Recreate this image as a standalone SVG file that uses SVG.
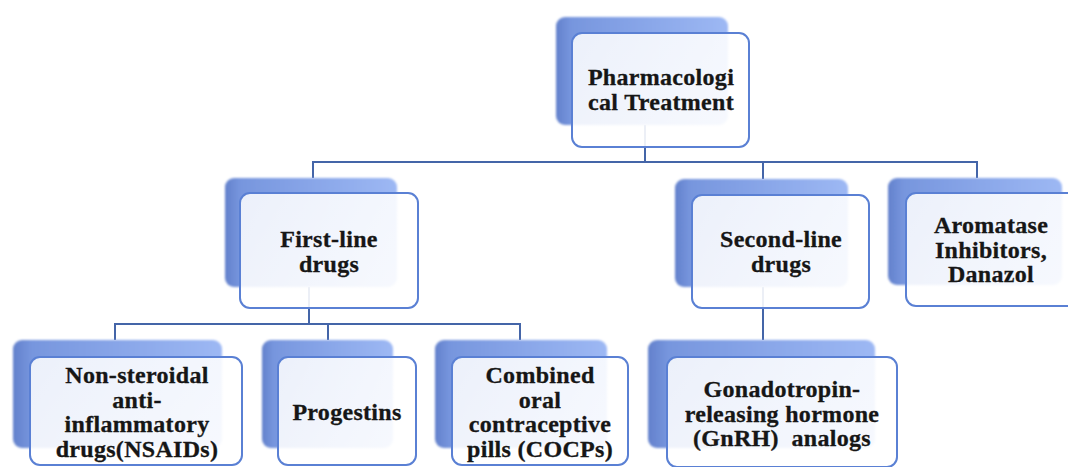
<svg xmlns="http://www.w3.org/2000/svg" width="1068" height="467" viewBox="0 0 1068 467">
  <defs>
    <linearGradient id="backGrad" x1="0" y1="0" x2="1" y2="0">
      <stop offset="0" stop-color="#6381cc"/>
      <stop offset="0.09" stop-color="#7796de"/>
      <stop offset="1" stop-color="#9db8f4"/>
    </linearGradient>
    <linearGradient id="frontGrad" x1="0" y1="0" x2="1" y2="1">
      <stop offset="0" stop-color="#ffffff" stop-opacity="0.86"/>
      <stop offset="1" stop-color="#ffffff" stop-opacity="0.92"/>
    </linearGradient>
    <filter id="soft" x="-5%" y="-5%" width="110%" height="110%">
      <feGaussianBlur stdDeviation="0.8"/>
    </filter>
  </defs>
  <style>
    .back { fill: url(#backGrad); filter: url(#soft); }
    .front { fill: url(#frontGrad); stroke: #5a80d4; stroke-width: 2; }
    .conn { fill: none; stroke: #4465a8; stroke-width: 2; }
    .lbl { font-weight: bold; font-size: 24px; fill: #161616; stroke: #161616; stroke-width: 0.3; letter-spacing: 0.3px; text-anchor: middle; white-space: pre; }
  </style>
  <rect width="1068" height="467" fill="#ffffff"/>

  <g id="connectors">
    <path class="conn" d="M645,125 V162 H313 V178"/>
    <path class="conn" d="M645,162 H763 V179"/>
    <path class="conn" d="M645,162 H977 V178"/>
    <path class="conn" d="M309,287 V324 H115 V340"/>
    <path class="conn" d="M309,324 H328 V340"/>
    <path class="conn" d="M309,324 H520 V340"/>
    <path class="conn" d="M763,287 V340"/>
  </g>

  <g font-family="Liberation Serif, Times New Roman, DejaVu Serif, serif">
  <g id="node-pharmacological-treatment">
    <rect class="back" x="556" y="17" width="172" height="108" rx="9"/>
    <rect class="front" x="572" y="33" width="177" height="114" rx="10"/>
    <text class="lbl" x="661" y="85">Pharmacologi</text>
    <text class="lbl" x="661" y="110">cal Treatment</text>
  </g>

  <g id="node-first-line">
    <rect class="back" x="225" y="178" width="172" height="109" rx="9"/>
    <rect class="front" x="240" y="193" width="178" height="115" rx="10"/>
    <text class="lbl" x="329" y="247">First-line</text>
    <text class="lbl" x="329" y="272">drugs</text>
  </g>

  <g id="node-second-line">
    <rect class="back" x="675" y="179" width="173" height="108" rx="9"/>
    <rect class="front" x="692" y="195" width="177" height="113" rx="10"/>
    <text class="lbl" x="781" y="247">Second-line</text>
    <text class="lbl" x="781" y="272">drugs</text>
  </g>

  <g id="node-aromatase">
    <rect class="back" x="888" y="178" width="174" height="107" rx="9"/>
    <rect class="front" x="906" y="193" width="171" height="113" rx="10"/>
    <text class="lbl" x="991" y="233">Aromatase</text>
    <text class="lbl" x="991" y="258">Inhibitors,</text>
    <text class="lbl" x="991" y="282">Danazol</text>
  </g>

  <g id="node-nsaids">
    <rect class="back" x="13" y="340" width="209" height="108" rx="9"/>
    <rect class="front" x="30" y="357" width="212" height="108" rx="10"/>
    <text class="lbl" x="137" y="383">Non-steroidal</text>
    <text class="lbl" x="137" y="408">anti-</text>
    <text class="lbl" x="137" y="432">inflammatory</text>
    <text class="lbl" x="137" y="457">drugs(NSAIDs)</text>
  </g>

  <g id="node-progestins">
    <rect class="back" x="262" y="340" width="131" height="108" rx="9"/>
    <rect class="front" x="278" y="357" width="138" height="108" rx="10"/>
    <text class="lbl" x="347" y="420">Progestins</text>
  </g>

  <g id="node-cocps">
    <rect class="back" x="435" y="340" width="172" height="108" rx="9"/>
    <rect class="front" x="452" y="357" width="176" height="108" rx="10"/>
    <text class="lbl" x="540" y="383">Combined</text>
    <text class="lbl" x="540" y="408">oral</text>
    <text class="lbl" x="540" y="432">contraceptive</text>
    <text class="lbl" x="540" y="457">pills (COCPs)</text>
  </g>

  <g id="node-gnrh">
    <rect class="back" x="648" y="340" width="227" height="108" rx="9"/>
    <rect class="front" x="667" y="357" width="230" height="110" rx="10"/>
    <text class="lbl" x="782" y="397">Gonadotropin-</text>
    <text class="lbl" x="782" y="422">releasing hormone</text>
    <text class="lbl" x="782" y="446">(GnRH)  analogs</text>
  </g>
  </g>
</svg>
